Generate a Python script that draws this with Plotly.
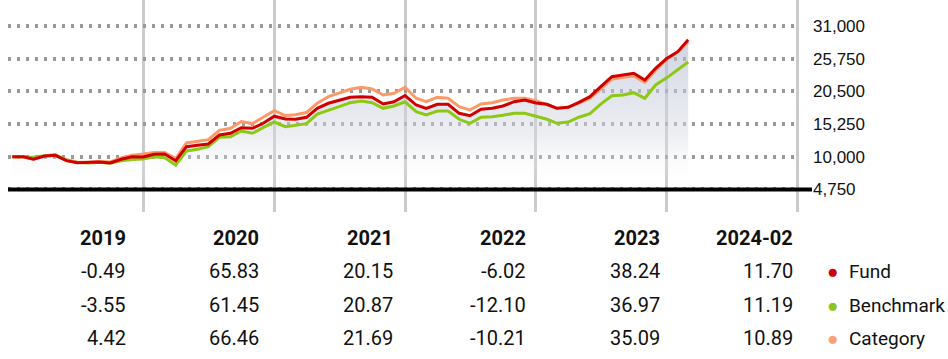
import pandas as pd
import plotly.graph_objects as go

# ---------------- data ----------------
dates = pd.date_range("2018-12-31", periods=63, freq="ME")

fund = [10000, 10000, 9580, 10110, 10220, 9360, 9040, 9040, 9150, 8990, 9580, 10000, 9951,
        10390, 10430, 9360, 11610, 11830, 12040, 13480, 13760, 14660, 14560, 15370, 16502,
        16060, 16010, 16330, 17770, 18580, 19110, 19540, 19640, 19540, 18460, 18830, 19827,
        18300, 17770, 18420, 18420, 16970, 16580, 17610, 17770, 18140, 18830, 19110, 18634,
        18420, 17770, 17930, 18740, 19640, 21240, 22850, 23120, 23390, 22320, 24200, 25759,
        26860, 28773]

benchmark = [10000, 10000, 9900, 10150, 10300, 9500, 9100, 9000, 9100, 8950, 9350, 9550, 9645,
             10000, 9840, 8670, 10920, 11190, 11610, 13120, 13210, 14130, 13760, 14660, 15572,
             14820, 15000, 15300, 16850, 17390, 18030, 18670, 18950, 18670, 17770, 18140, 18822,
             17230, 16700, 17340, 17340, 16010, 15360, 16330, 16420, 16650, 16970, 16970, 16545,
             16010, 15360, 15570, 16340, 16920, 18440, 19780, 19910, 20280, 19380, 21520, 22662,
             24040, 25198]

category = [10000, 10000, 9600, 10100, 10250, 9400, 9100, 9100, 9250, 9150, 9800, 10250, 10442,
            10690, 10690, 9700, 12210, 12420, 12740, 14240, 14560, 15640, 15320, 16330, 17382,
            16600, 16750, 17100, 18600, 19640, 20280, 20820, 21150, 20870, 19910, 20180, 21152,
            19380, 18830, 19540, 19380, 18030, 17500, 18460, 18670, 19110, 19380, 19380, 18992,
            18400, 17750, 17950, 18600, 19400, 20900, 22450, 22750, 22950, 21950, 23900, 25657,
            26800, 28451]

y_ticks = [4750, 10000, 15250, 20500, 25750, 31000]
year_ends = ["2019-12-31", "2020-12-31", "2021-12-31", "2022-12-31", "2023-12-31", "2024-12-31"]

period_labels = ["2019", "2020", "2021", "2022", "2023", "2024-02"]
fund_ret = [-0.49, 65.83, 20.15, -6.02, 38.24, 11.70]
bench_ret = [-3.55, 61.45, 20.87, -12.10, 36.97, 11.19]
cat_ret = [4.42, 66.46, 21.69, -10.21, 35.09, 10.89]

series_names = ["Fund", "Benchmark", "Category"]

# ---------------- styling ----------------
W, H = 948, 359
PL, PR, PT, PB = 8, 800, 0, 212
C_FUND, C_BENCH, C_CAT = "#d10000", "#8cc814", "#fb9a68"
DOT_COLORS = ["#cc0011", "#8cc51e", "#f9a27a"]
TABLE_FONT = "Roboto, Liberation Sans, Arial, sans-serif"
REG = "Liberation Sans, Arial, sans-serif"
TSIZE = 20


def xp(px):
    return (px - PL) / (PR - PL)


def yp(py):
    return (PB - py) / (PB - PT)


fig = go.Figure()

# baseline for fill
fig.add_trace(go.Scatter(x=dates, y=[y_ticks[0]] * len(dates), mode="lines",
                         line=dict(width=0), hoverinfo="skip", showlegend=False))
fig.add_trace(go.Scatter(x=dates, y=fund, mode="lines", line=dict(width=0),
                         fill="tonexty",
                         fillgradient=dict(type="vertical",
                                           colorscale=[[0, "rgba(255,255,255,0)"],
                                                       [0.35, "rgba(215,219,228,0.45)"],
                                                       [1, "rgba(175,183,205,0.6)"]],
                                           start=y_ticks[0], stop=29000),
                         hoverinfo="skip", showlegend=False))

fig.add_trace(go.Scatter(x=dates, y=benchmark, mode="lines", name="Benchmark",
                         line=dict(color=C_BENCH, width=3), showlegend=False))
fig.add_trace(go.Scatter(x=dates, y=category, mode="lines", name="Category",
                         line=dict(color=C_CAT, width=3), showlegend=False))
fig.add_trace(go.Scatter(x=dates, y=fund, mode="lines", name="Fund",
                         line=dict(color=C_FUND, width=3), showlegend=False))

# black baseline at lowest tick
fig.add_shape(type="line", xref="paper", yref="y", x0=0, x1=xp(812),
              y0=y_ticks[0], y1=y_ticks[0], line=dict(color="black", width=4), layer="above")

# table
col_right = [128 + j * 133.4 for j in range(len(period_labels))]
row_y = [271, 305, 338]
for j, lab in enumerate(period_labels):
    fig.add_annotation(x=xp(col_right[j]), y=yp(238), xref="paper", yref="paper",
                       text=f"<b>{lab}</b>", showarrow=False, xanchor="right", yanchor="middle",
                       font=dict(family=TABLE_FONT, size=TSIZE, color="#111111"))
    for r, arr in enumerate([fund_ret, bench_ret, cat_ret]):
        fig.add_annotation(x=xp(col_right[j]), y=yp(row_y[r]), xref="paper", yref="paper",
                           text=f"{arr[j]:.2f}", showarrow=False, xanchor="right", yanchor="middle",
                           font=dict(family=TABLE_FONT, size=TSIZE, color="#111111"))

# legend
for r, name in enumerate(series_names):
    fig.add_annotation(x=xp(832), y=yp(row_y[r]), xref="paper", yref="paper", text="●",
                       showarrow=False, xanchor="center", yanchor="middle",
                       font=dict(family=REG, size=19, color=DOT_COLORS[r]))
    fig.add_annotation(x=xp(847), y=yp(row_y[r]), xref="paper", yref="paper", text=name,
                       showarrow=False, xanchor="left", yanchor="middle",
                       font=dict(family=TABLE_FONT, size=TSIZE - 1, color="#111111"))

fig.update_layout(
    width=W, height=H,
    margin=dict(l=PL, r=W - PR, t=PT, b=H - PB, pad=0),
    paper_bgcolor="white", plot_bgcolor="white",
    showlegend=False,
    xaxis=dict(type="date", range=["2018-12-19", "2025-01-06"],
               tickvals=year_ends, showticklabels=False, ticks="",
               showgrid=True, gridcolor="#cbcbcb", gridwidth=3,
               zeroline=False, showline=False),
    yaxis=dict(range=[1119, 35165], side="right", tickvals=y_ticks,
               ticktext=[f"{v:,}" for v in y_ticks], ticks="", ticklabelstandoff=12,
               showgrid=True, gridcolor="#9a9a9a", gridwidth=3.5, griddash="3px,6px",
               zeroline=False, showline=False,
               tickfont=dict(family=REG, size=17, color="#111111")),
)

fig.write_html("out.html", config={"displayModeBar": False},
               post_script="document.body.style.margin='0';")
